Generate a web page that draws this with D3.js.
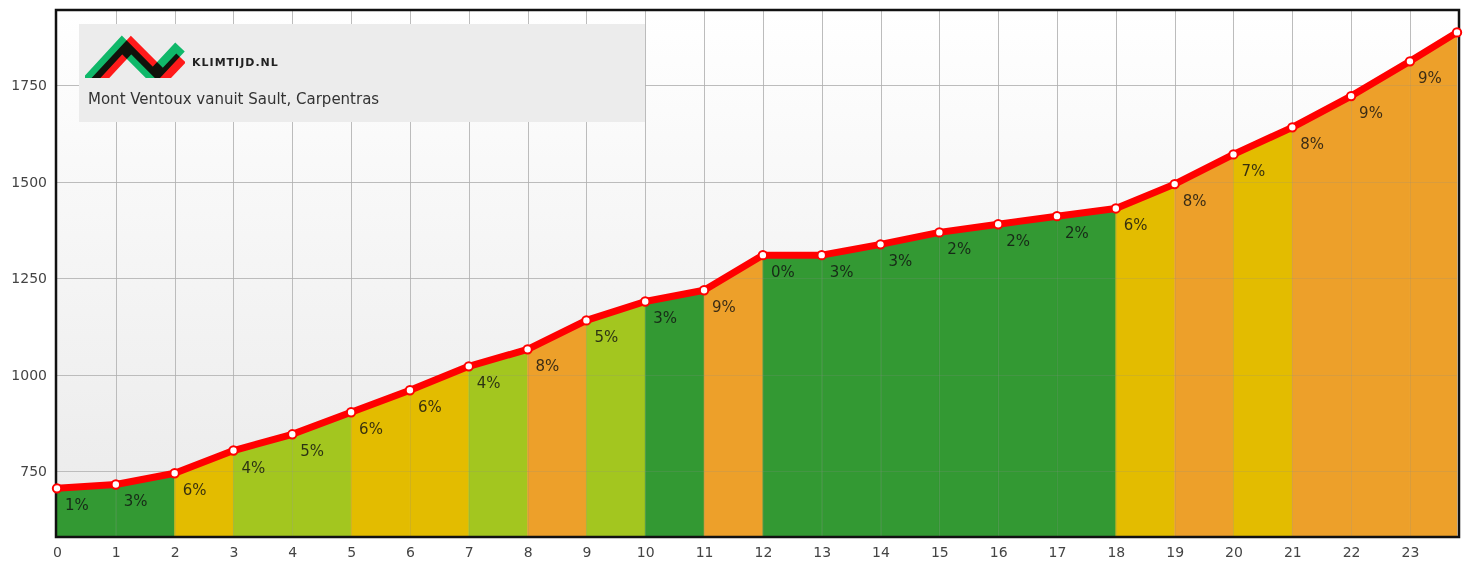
<!DOCTYPE html>
<html>
<head>
<meta charset="utf-8">
<script src="https://cdn.jsdelivr.net/npm/d3@7"></script>
<style>
  body { margin: 0; background: #fff; }
  svg text { font-family: "DejaVu Sans", sans-serif; }
</style>
</head>
<body>
<div id="chart"></div>
<script>
// climb profile, one point per km
const distances = [0, 1, 2, 3, 4, 5, 6, 7, 8, 9, 10, 11, 12, 13, 14, 15, 16, 17, 18, 19, 20, 21, 22, 23, 23.8];
const elevations = [706, 716, 745, 804, 846, 903, 960, 1022, 1066, 1141, 1190, 1219, 1310, 1310, 1338, 1369, 1390, 1411, 1431, 1494, 1571, 1641, 1722, 1812, 1887];
// gradient per km segment (%)
const grades = [1, 3, 6, 4, 5, 6, 6, 4, 8, 5, 3, 9, 0, 3, 3, 2, 2, 2, 6, 8, 7, 8, 9, 9];
const yTicks = [750, 1000, 1250, 1500, 1750];
const xTicks = [0, 1, 2, 3, 4, 5, 6, 7, 8, 9, 10, 11, 12, 13, 14, 15, 16, 17, 18, 19, 20, 21, 22, 23];
const title = "Mont Ventoux vanuit Sault, Carpentras";

const W = 1470, H = 565;
const plotLeft = 57, plotRight = 1457, plotTop = 10, plotBottom = 537;

const svg = d3.select("#chart").append("svg")
  .attr("width", W)
  .attr("height", H);

const x = d3.scaleLinear().domain([0, d3.max(distances)]).range([plotLeft, plotRight]);
const y = d3.scaleLinear().domain([580, 1945]).range([plotBottom, plotTop]);

const color = d3.scaleThreshold()
  .domain([4, 6, 8])
  .range(["#339933", "#a3c61f", "#e3bc00", "#eda02a"]);

const pts = distances.map((d, i) => ({ d: d, e: elevations[i] }));

// background gradient
const defs = svg.append("defs");
const grad = defs.append("linearGradient").attr("id", "bg")
  .attr("x1", 0).attr("y1", 0).attr("x2", 0).attr("y2", 1);
grad.append("stop").attr("offset", "0%").attr("stop-color", "#ffffff");
grad.append("stop").attr("offset", "100%").attr("stop-color", "#eaeaea");

svg.append("rect")
  .attr("x", plotLeft).attr("y", plotTop)
  .attr("width", plotRight - plotLeft + 1).attr("height", plotBottom - plotTop)
  .attr("fill", "url(#bg)");

// grid lines
function drawGrid(g, stroke) {
  g.selectAll(".vx").data(xTicks.slice(1)).enter().append("line")
    .attr("x1", d => Math.round(x(d)) + 0.5).attr("x2", d => Math.round(x(d)) + 0.5)
    .attr("y1", plotTop).attr("y2", plotBottom)
    .attr("stroke", stroke).attr("stroke-width", 1);
  g.selectAll(".hy").data(yTicks).enter().append("line")
    .attr("x1", plotLeft).attr("x2", plotRight)
    .attr("y1", d => Math.round(y(d)) + 0.5).attr("y2", d => Math.round(y(d)) + 0.5)
    .attr("stroke", stroke).attr("stroke-width", 1);
}
drawGrid(svg.append("g"), "#c8c8c8");

// coloured segments
const area = d3.area()
  .x(p => x(p.d))
  .y0(plotBottom)
  .y1(p => y(p.e));

svg.append("g").selectAll("path")
  .data(grades)
  .enter().append("path")
  .attr("d", (g, i) => area([pts[i], pts[i + 1]]))
  .attr("fill", g => color(g))
  .attr("stroke", g => color(g))
  .attr("stroke-width", 0.5);

// faint grid over the fill
drawGrid(svg.append("g"), "rgba(140,140,140,0.2)");

// frame
svg.append("rect")
  .attr("x", plotLeft - 1).attr("y", plotTop)
  .attr("width", plotRight - plotLeft + 3).attr("height", plotBottom - plotTop)
  .attr("fill", "none")
  .attr("stroke", "#111")
  .attr("stroke-width", 2.5);

// grade labels
svg.append("g").selectAll("text")
  .data(grades)
  .enter().append("text")
  .attr("x", (g, i) => x(pts[i].d) + 8)
  .attr("y", (g, i) => y(pts[i].e) + 22)
  .attr("font-size", "15px")
  .attr("fill", "#111")
  .attr("fill-opacity", 0.82)
  .text(g => g + "%");

// profile line
const line = d3.line().x(p => x(p.d)).y(p => y(p.e));
svg.append("path")
  .datum(pts)
  .attr("d", line)
  .attr("fill", "none")
  .attr("stroke", "#ff0000")
  .attr("stroke-width", 7)
  .attr("stroke-linejoin", "round");

svg.append("g").selectAll("circle")
  .data(pts)
  .enter().append("circle")
  .attr("cx", p => x(p.d))
  .attr("cy", p => y(p.e))
  .attr("r", 4.2)
  .attr("fill", "#fff")
  .attr("stroke", "#ff0000")
  .attr("stroke-width", 2);

// axes
const yAxis = svg.append("g")
  .attr("transform", "translate(" + plotLeft + ",0)")
  .call(d3.axisLeft(y).tickValues(yTicks).tickFormat(d3.format("d")).tickSize(0).tickPadding(10));
const xAxis = svg.append("g")
  .attr("transform", "translate(0," + plotBottom + ")")
  .call(d3.axisBottom(x).tickValues(xTicks).tickSize(0).tickPadding(10));
[yAxis, xAxis].forEach(a => {
  a.select(".domain").remove();
  a.selectAll("text")
    .attr("font-family", "DejaVu Sans, sans-serif")
    .attr("font-size", "14px")
    .attr("fill", "#444");
});

// logo box
const logo = svg.append("g");
logo.append("rect")
  .attr("x", 79).attr("y", 24)
  .attr("width", 566).attr("height", 98)
  .attr("fill", "#ececec");

const clip = defs.append("clipPath").attr("id", "logoclip");
clip.append("rect").attr("x", 85).attr("y", 30).attr("width", 100).attr("height", 48);

const zig = d3.line();
const logoMarks = logo.append("g").attr("clip-path", "url(#logoclip)");
logoMarks.append("path")
  .attr("d", zig([[86, 84], [122, 45], [153, 76], [180, 47]]))
  .attr("fill", "none")
  .attr("stroke", "#10b86a")
  .attr("stroke-width", 13)
  .attr("stroke-linejoin", "miter")
  .style("mix-blend-mode", "multiply");
logoMarks.append("path")
  .attr("d", zig([[93, 86], [131, 45], [163, 77], [181, 58]]))
  .attr("fill", "none")
  .attr("stroke", "#ff1a1a")
  .attr("stroke-width", 13)
  .attr("stroke-linejoin", "miter")
  .style("mix-blend-mode", "multiply");

logo.append("text")
  .attr("x", 192).attr("y", 66)
  .attr("font-size", "11px")
  .attr("font-weight", "bold")
  .attr("letter-spacing", "1px")
  .attr("fill", "#222")
  .text("KLIMTIJD.NL");

logo.append("text")
  .attr("x", 88).attr("y", 104)
  .attr("font-size", "15px")
  .attr("fill", "#333")
  .text(title);
</script>
</body>
</html>
